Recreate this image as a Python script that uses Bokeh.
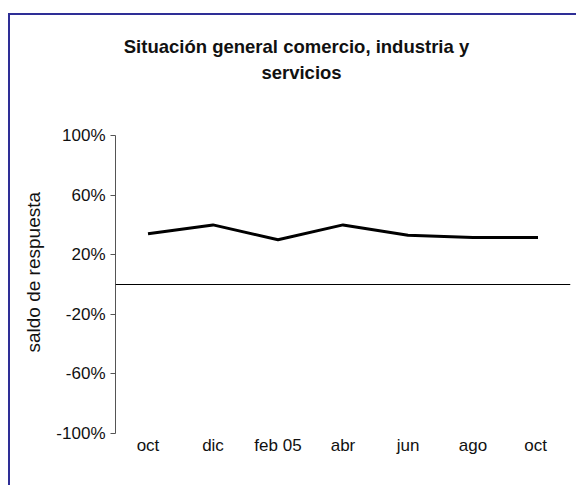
from bokeh.plotting import figure
from bokeh.models import FixedTicker, PrintfTickFormatter, Span, Title, Label
from bokeh.embed import file_html
from bokeh.resources import INLINE

categories = ["oct", "dic", "feb 05", "abr", "jun", "ago", "oct "]
values = [34, 40, 30, 40, 33, 31.5, 31.5]
y_ticks = [-100, -60, -20, 20, 60, 100]
title_lines = ["Situación general comercio, industria y", "servicios"]
y_label = "saldo de respuesta"

FONT = "Liberation Sans"

# layout: frame extends to the top of the canvas so the title can sit inside it;
# the -100..100 scale occupies the lower 298 px of the 418 px frame
W, H = 568, 472
B_LEFT, B_RIGHT, B_BOTTOM = 105, 8, 54
FRAME_H = H - B_BOTTOM
SCALE_H = 298
y_top = -100 + FRAME_H * 200 / SCALE_H

p = figure(x_range=categories, y_range=(-100, y_top), width=W, height=H,
           output_backend="svg", toolbar_location=None,
           min_border_left=B_LEFT, min_border_right=B_RIGHT,
           min_border_top=0, min_border_bottom=B_BOTTOM)
p.styles = {"margin-left": "8px", "margin-top": "13px",
            "border-left": "2px solid #2e2e96", "border-top": "2px solid #2e2e96"}
p.title = None

p.outline_line_color = None
p.grid.grid_line_color = None
p.background_fill_color = "white"
p.border_fill_color = "white"

p.line(categories, values, line_color="black", line_width=3)
p.add_layout(Span(location=0, dimension="width", line_color="black", line_width=1))

for txt, xx, yy in zip(title_lines, [181, 186], [387, 361]):
    p.add_layout(Label(x=xx, y=yy, x_units="screen", y_units="screen", text=txt,
                       text_align="center", text_baseline="alphabetic",
                       text_font=FONT, text_font_size="18.5px", text_font_style="bold",
                       text_color="#111111"))

ty = Title(text=y_label, align="left", offset=81, standoff=20,
           text_font=FONT, text_font_size="19px", text_font_style="normal", text_color="#111111")
p.add_layout(ty, "left")

ya = p.yaxis[0]
ya.bounds = (-100, 100)
ya.ticker = FixedTicker(ticks=y_ticks)
ya.formatter = PrintfTickFormatter(format="%d%%")
ya.minor_tick_line_color = None
ya.major_tick_out = 5
ya.major_tick_in = 0
ya.axis_line_color = "#555555"
ya.major_tick_line_color = "#555555"
ya.major_label_text_font = FONT
ya.major_label_text_font_size = "17px"
ya.major_label_text_color = "#111111"
ya.major_label_standoff = 5

xa = p.xaxis[0]
xa.axis_line_color = None
xa.major_tick_line_color = None
xa.minor_tick_line_color = None
xa.major_tick_out = 0
xa.major_tick_in = 0
xa.major_label_text_font = FONT
xa.major_label_text_font_size = "17px"
xa.major_label_text_color = "#111111"
xa.major_label_standoff = 2

open("out.html", "w").write(file_html(p, INLINE))
